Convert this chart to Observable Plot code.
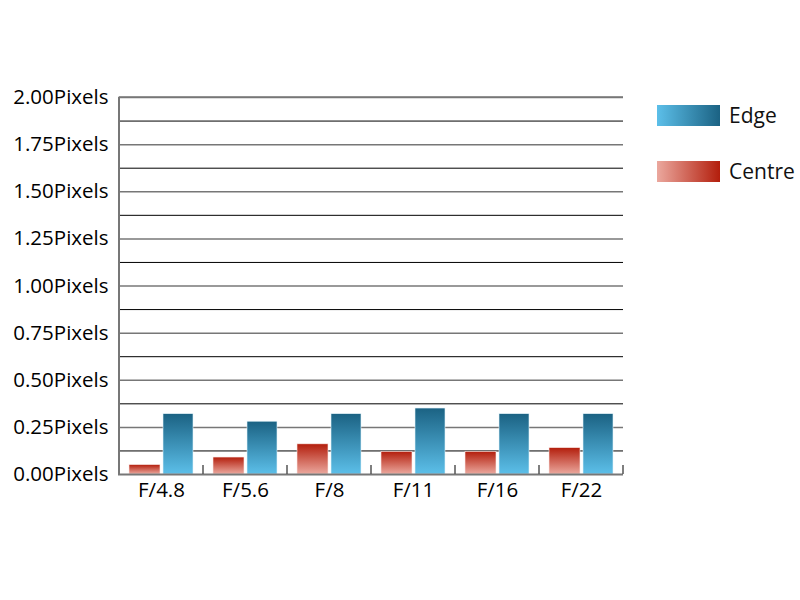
<!DOCTYPE html>
<html><head><meta charset="utf-8">
<script src="https://cdn.jsdelivr.net/npm/d3@7"></script>
<script src="https://cdn.jsdelivr.net/npm/@observablehq/plot@0.6"></script>
<style>
body{margin:0;background:#fff;font-family:"Open Sans",sans-serif;}
#wrap{position:relative;width:800px;height:600px;}
.leg{position:absolute;display:flex;align-items:center;font-size:21px;line-height:21px;height:21px;color:#111;}
.sw{width:63px;height:21px;margin-right:9px;}
</style></head><body>
<div id="wrap"></div>
<script>
const apertures = ["F/4.8","F/5.6","F/8","F/11","F/16","F/22"];
const centre = [0.05,0.09,0.16,0.12,0.12,0.14];
const edge = [0.32,0.28,0.32,0.35,0.32,0.32];
const yTicks = [0,0.25,0.5,0.75,1,1.25,1.5,1.75,2];
const gridLines = d3.range(0,2.001,0.125);

const rows = apertures.map((a,i)=>({a, centre:centre[i], edge:edge[i]}));
const isMajor = v => Math.abs(v/0.25-Math.round(v/0.25))<1e-9;

const plot = Plot.plot({
  width:800, height:600,
  marginLeft:118, marginRight:177, marginTop:97, marginBottom:126,
  style:{fontFamily:"Open Sans, sans-serif", fontSize:"20.5px", color:"#000", background:"#fff"},
  x:{domain:apertures, padding:0, label:null},
  y:{domain:[0,2], label:null},
  marks:[
    Plot.ruleY(gridLines.filter(v=>v>0 && !isMajor(v)), {stroke:"#000", strokeWidth:1}),
    Plot.ruleY(gridLines.filter(v=>v>0 && isMajor(v)), {stroke:"#777", strokeWidth:1.5}),
    Plot.barY(rows, {x:"a", y:"centre", fill:"url(#gradC)", insetLeft:10, insetRight:43, stroke:"#fbe9e6", strokeWidth:0.6}),
    Plot.barY(rows, {x:"a", y:"edge", fill:"url(#gradE)", insetLeft:44, insetRight:10, stroke:"#e3f3fa", strokeWidth:0.6}),
    Plot.ruleY([0], {stroke:"#777", strokeWidth:2}),
    Plot.axisY({ticks:yTicks, tickFormat:d=>d.toFixed(2)+"Pixels", tickSize:0, tickPadding:10, fontSize:20.5, label:null}),
    Plot.axisX({tickSize:0, tickPadding:8, fontSize:20.5, label:null})
  ]
});

const svg = d3.select(plot);
const defs = svg.insert("defs",":first-child");
const gE = defs.append("linearGradient").attr("id","gradE").attr("x1",0).attr("y1",0).attr("x2",0).attr("y2",1);
gE.append("stop").attr("offset","0%").attr("stop-color","#1b6283");
gE.append("stop").attr("offset","100%").attr("stop-color","#5cbfe9");
const gC = defs.append("linearGradient").attr("id","gradC").attr("x1",0).attr("y1",0).attr("x2",0).attr("y2",1);
gC.append("stop").attr("offset","0%").attr("stop-color","#b31e0c");
gC.append("stop").attr("offset","100%").attr("stop-color","#eba89e");

// left axis line and group-boundary tick marks, from the library's scales
const xs = plot.scale("x"), ys = plot.scale("y");
const y0 = ys.apply(0), y2 = ys.apply(2);
const left = xs.apply(apertures[0]);
svg.append("line").attr("x1",left).attr("x2",left).attr("y1",y2).attr("y2",y0).attr("stroke","#777").attr("stroke-width",2);
apertures.forEach(a=>{
  const xr = xs.apply(a) + xs.bandwidth;
  svg.append("line").attr("x1",xr).attr("x2",xr).attr("y1",y0).attr("y2",y0-9).attr("stroke","#555").attr("stroke-width",1.5);
});
svg.append("line").attr("x1",left).attr("x2",xs.apply(apertures[apertures.length-1])+xs.bandwidth).attr("y1",y2).attr("y2",y2).attr("stroke","#777").attr("stroke-width",1.5);

const wrap = document.getElementById("wrap");
wrap.appendChild(plot);
const legend = [
  {name:"Edge", grad:"linear-gradient(to right,#5cbfe9,#1b6283)", top:105},
  {name:"Centre", grad:"linear-gradient(to right,#eba89e,#b31e0c)", top:161}
];
legend.forEach(l=>{
  const d = document.createElement("div");
  d.className="leg"; d.style.left="657px"; d.style.top=l.top+"px";
  d.innerHTML = `<div class="sw" style="background:${l.grad}"></div><span>${l.name}</span>`;
  wrap.appendChild(d);
});
</script>
</body></html>
